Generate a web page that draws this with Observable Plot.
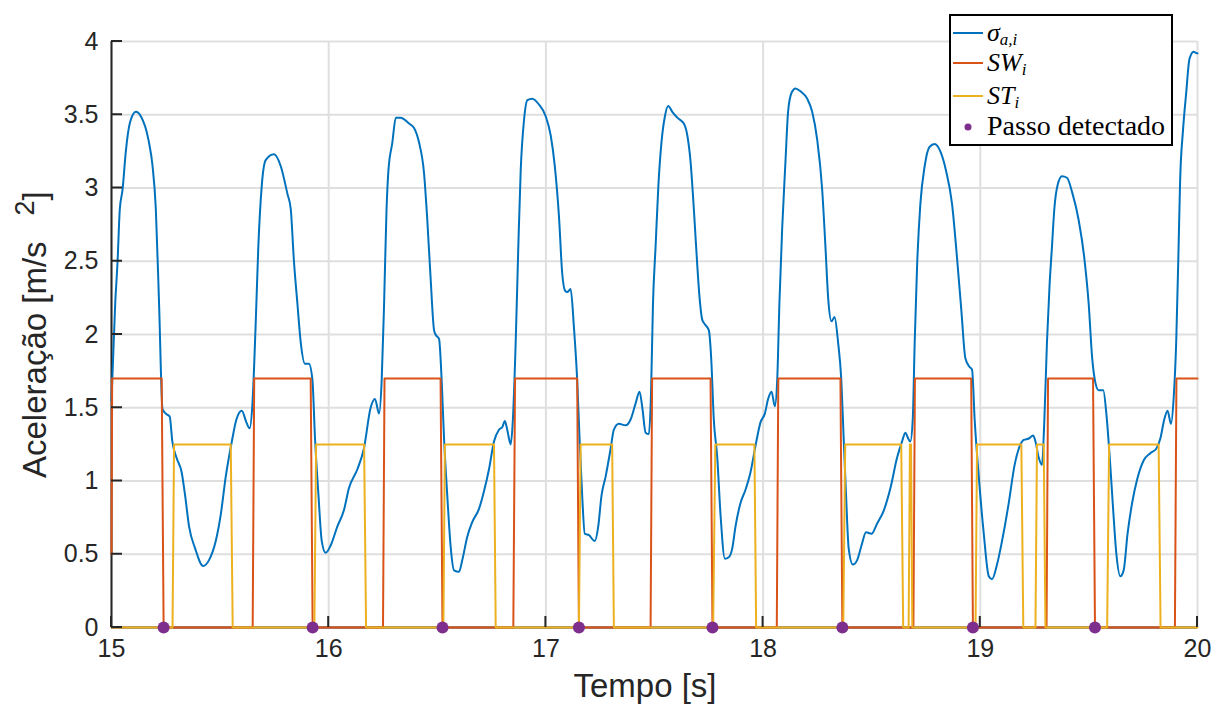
<!DOCTYPE html>
<html><head><meta charset="utf-8">
<script src="https://cdn.jsdelivr.net/npm/d3@7"></script>
<script src="https://cdn.jsdelivr.net/npm/@observablehq/plot@0.6"></script>
<style>body{margin:0;background:#fff}</style>
</head><body><div id="chart"></div>
<script>
// sigma_{a,i}: time [s] and acceleration [m/s^2]
const sigmaT = [15.000,15.017,15.028,15.038,15.051,15.066,15.084,15.112,15.135,15.170,15.189,15.204,15.219,15.235,15.250,15.268,15.280,15.299,15.323,15.339,15.357,15.385,15.422,15.449,15.480,15.503,15.526,15.554,15.575,15.600,15.621,15.636,15.649,15.664,15.676,15.692,15.710,15.748,15.779,15.810,15.825,15.840,15.856,15.871,15.891,15.909,15.925,15.937,15.953,15.968,15.986,16.009,16.040,16.070,16.093,16.132,16.162,16.193,16.213,16.232,16.244,16.255,16.266,16.275,16.293,16.309,16.331,16.370,16.393,16.416,16.439,16.454,16.469,16.485,16.492,16.508,16.520,16.531,16.546,16.561,16.577,16.600,16.615,16.638,16.661,16.692,16.715,16.738,16.761,16.784,16.800,16.811,16.822,16.838,16.848,16.861,16.873,16.884,16.899,16.915,16.937,16.968,16.999,17.022,17.041,17.060,17.075,17.088,17.098,17.114,17.129,17.144,17.155,17.167,17.179,17.198,17.225,17.241,17.256,17.275,17.298,17.313,17.336,17.367,17.390,17.413,17.431,17.444,17.459,17.474,17.484,17.493,17.505,17.518,17.532,17.548,17.563,17.582,17.605,17.635,17.651,17.666,17.681,17.697,17.707,17.720,17.732,17.750,17.761,17.773,17.789,17.804,17.824,17.842,17.858,17.873,17.896,17.919,17.942,17.965,17.988,18.008,18.023,18.039,18.054,18.065,18.075,18.088,18.103,18.115,18.131,18.149,18.172,18.203,18.226,18.249,18.272,18.287,18.300,18.315,18.329,18.345,18.360,18.371,18.382,18.394,18.413,18.433,18.453,18.474,18.499,18.525,18.556,18.586,18.617,18.640,18.655,18.668,18.678,18.689,18.698,18.709,18.724,18.744,18.766,18.790,18.816,18.842,18.870,18.893,18.913,18.931,18.950,18.962,18.974,18.993,19.016,19.039,19.054,19.077,19.100,19.131,19.158,19.177,19.200,19.223,19.243,19.254,19.269,19.284,19.295,19.307,19.319,19.330,19.341,19.356,19.376,19.399,19.423,19.453,19.479,19.499,19.515,19.530,19.545,19.566,19.581,19.596,19.611,19.626,19.645,19.660,19.678,19.699,19.722,19.752,19.783,19.810,19.829,19.847,19.862,19.878,19.890,19.902,19.913,19.920,19.933,19.948,19.963,19.982,19.997,20.000];
const sigmaV = [1.55,2.21,2.50,2.85,2.99,3.25,3.44,3.52,3.49,3.33,3.15,2.86,2.21,1.49,1.46,1.44,1.27,1.16,1.06,0.90,0.69,0.54,0.42,0.46,0.59,0.77,1.03,1.27,1.42,1.48,1.40,1.36,1.53,2.08,2.60,3.02,3.19,3.23,3.15,2.96,2.86,2.50,2.21,1.95,1.80,1.80,1.69,1.29,0.90,0.59,0.51,0.56,0.69,0.80,0.95,1.08,1.22,1.50,1.56,1.46,1.69,2.21,2.84,3.12,3.31,3.48,3.48,3.44,3.41,3.31,3.10,2.78,2.39,2.03,2.00,1.97,1.69,1.29,0.90,0.56,0.39,0.38,0.46,0.62,0.72,0.81,0.93,1.08,1.27,1.35,1.37,1.41,1.35,1.25,1.42,1.95,2.60,3.12,3.46,3.60,3.61,3.57,3.49,3.36,3.15,2.81,2.42,2.30,2.29,2.31,2.05,1.69,1.29,0.90,0.64,0.63,0.59,0.69,0.90,1.03,1.22,1.35,1.39,1.38,1.42,1.53,1.61,1.50,1.33,1.32,1.60,2.21,2.60,3.02,3.31,3.49,3.56,3.52,3.48,3.44,3.36,3.18,2.86,2.47,2.26,2.10,2.07,2.03,1.84,1.42,1.16,0.77,0.47,0.48,0.54,0.69,0.85,0.94,1.06,1.24,1.40,1.46,1.56,1.61,1.51,1.69,2.21,2.73,3.18,3.52,3.65,3.68,3.66,3.61,3.52,3.33,2.99,2.60,2.24,2.09,2.12,1.95,1.69,1.29,0.90,0.54,0.43,0.46,0.56,0.65,0.64,0.71,0.80,0.95,1.16,1.27,1.33,1.29,1.27,1.42,1.95,2.47,2.89,3.15,3.28,3.30,3.25,3.12,2.89,2.52,2.16,1.84,1.78,1.76,1.42,1.03,0.64,0.35,0.33,0.43,0.59,0.85,1.11,1.22,1.28,1.29,1.31,1.27,1.16,1.11,1.42,1.95,2.34,2.60,2.86,3.02,3.08,3.07,2.97,2.78,2.52,2.21,1.84,1.67,1.62,1.62,1.45,1.16,0.82,0.51,0.35,0.39,0.64,0.85,1.01,1.14,1.19,1.22,1.29,1.42,1.48,1.39,1.56,1.95,2.60,3.05,3.39,3.65,3.88,3.93,3.92,3.92];

// SW_i step signal
const swT = [15.000,15.003,15.231,15.240,15.650,15.657,15.917,15.926,16.250,16.257,16.515,16.524,16.850,16.858,17.144,17.152,17.482,17.489,17.758,17.767,18.063,18.070,18.356,18.365,18.692,18.699,18.958,18.966,19.305,19.312,19.519,19.528,19.896,19.903,20.000];
const swV = [0.5,1.7,1.7,0,0,1.7,1.7,0,0,1.7,1.7,0,0,1.7,1.7,0,0,1.7,1.7,0,0,1.7,1.7,0,0,1.7,1.7,0,0,1.7,1.7,0,0,1.7,1.7];

// ST_i step signal
const stT = [15.000,15.281,15.288,15.549,15.558,15.934,15.942,16.163,16.172,16.528,16.535,16.761,16.769,17.152,17.160,17.305,17.313,17.770,17.780,17.960,17.968,18.369,18.378,18.636,18.645,18.670,18.676,18.681,18.687,18.978,18.985,19.189,19.198,19.254,19.261,19.292,19.300,19.584,19.593,19.821,19.830,20.000];
const stV = [0,0,1.25,1.25,0,0,1.25,1.25,0,0,1.25,1.25,0,0,1.25,1.25,0,0,1.25,1.25,0,0,1.25,1.25,0,0,1.25,1.25,0,0,1.25,1.25,0,0,1.25,1.25,0,0,1.25,1.25,0,0];

// Passo detectado
const stepT = [15.240,15.926,16.524,17.152,17.767,18.365,18.966,19.528];
const stepV = [0,0,0,0,0,0,0,0];

const xTicks = [15,16,17,18,19,20];
const yTicks = [0,0.5,1,1.5,2,2.5,3,3.5,4];
const yTickLabels = ["0","0.5","1","1.5","2","2.5","3","3.5","4"];
const xLabel = "Tempo [s]";
const yLabel = "Aceleração [m/s";
const legendLabels = ["Passo detectado"];

const sigma = sigmaT.map((t,i)=>({t, v: sigmaV[i]}));
const sw = swT.map((t,i)=>({t, v: swV[i]}));
const st = stT.map((t,i)=>({t, v: stV[i]}));
const steps = stepT.map((t,i)=>({t, v: stepV[i]}));

const ink = "#262626";
const gridColor = "#dfdfdf";
const font = "'Liberation Sans', Arial, Helvetica, sans-serif";

const chart = Plot.plot({
  width: 1212, height: 709,
  marginLeft: 111, marginRight: 15, marginTop: 41, marginBottom: 82,
  style: {fontFamily: font, background: "#fff", overflow: "visible"},
  x: {domain: [15, 20]},
  y: {domain: [0, 4]},
  marks: [
    Plot.gridY(yTicks, {stroke: gridColor, strokeOpacity: 1, strokeWidth: 2}),
    Plot.gridX(xTicks, {stroke: gridColor, strokeOpacity: 1, strokeWidth: 2}),
    Plot.ruleX([15], {stroke: ink, strokeWidth: 2}),
    Plot.ruleY([0], {stroke: ink, strokeWidth: 2}),
    Plot.axisX(xTicks, {tickSize: 0, tickPadding: 12, fontSize: 25, fill: ink, label: null, tickFormat: d => String(d)}),
    Plot.axisY(yTicks, {tickSize: 0, tickPadding: 13, fontSize: 25, fill: ink, label: null, tickFormat: d => yTickLabels[yTicks.indexOf(d)]}),
    Plot.line(sigma, {x: "t", y: "v", stroke: "#0072BD", strokeWidth: 2, curve: "monotone-x"}),
    Plot.line(sw, {x: "t", y: "v", stroke: "#D95319", strokeWidth: 2}),
    Plot.line(st, {x: "t", y: "v", stroke: "#EDB120", strokeWidth: 2}),
    Plot.dot(steps, {x: "t", y: "v", r: 6, fill: "#7E2F8E", stroke: "none"})
  ]
});
document.getElementById("chart").appendChild(chart);

const sx = chart.scale("x"), sy = chart.scale("y");
const svg = d3.select(chart);
const x0 = sx.apply(15), x1 = sx.apply(20), y0 = sy.apply(0), y1 = sy.apply(4);

// inward ticks (MATLAB style)
const tg = svg.append("g").attr("stroke", ink).attr("stroke-width", 2);
yTicks.forEach(v => tg.append("line").attr("x1", x0).attr("x2", x0 + 11).attr("y1", sy.apply(v)).attr("y2", sy.apply(v)));
xTicks.forEach(v => tg.append("line").attr("x1", sx.apply(v)).attr("x2", sx.apply(v)).attr("y1", y0).attr("y2", y0 - 11));

// axis labels
svg.append("text").attr("x", 645).attr("y", 697).attr("text-anchor", "middle")
  .attr("font-size", 33).attr("fill", ink).attr("font-family", font).text(xLabel);
const yl = svg.append("text").attr("transform", `translate(46,478) rotate(-90)`)
  .attr("text-anchor", "start").attr("font-size", 33).attr("fill", ink).attr("font-family", font);
yl.append("tspan").text(yLabel);
yl.append("tspan").attr("dx", 26).attr("dy", -12).attr("font-size", 27).text("2");
yl.append("tspan").attr("dy", 12).text("]");

// legend
const serif = "'Liberation Serif', 'Times New Roman', serif";
const lg = svg.append("g").attr("text-anchor", "start");
lg.append("rect").attr("x", 950).attr("y", 15).attr("width", 222).attr("height", 130)
  .attr("fill", "#fff").attr("stroke", "#000").attr("stroke-width", 2);
const entries = [
  {c: "#0072BD", y: 33, main: "σ", sub: "a,i"},
  {c: "#D95319", y: 63, main: "SW", sub: "i"},
  {c: "#EDB120", y: 96, main: "ST", sub: "i"}
];
entries.forEach(e => {
  lg.append("line").attr("x1", 953).attr("x2", 983).attr("y1", e.y).attr("y2", e.y).attr("stroke", e.c).attr("stroke-width", 2);
  const t = lg.append("text").attr("x", 987).attr("y", e.y + 8).attr("text-anchor", "start").attr("font-family", serif).attr("font-style", "italic").attr("font-size", 26).attr("fill", "#000");
  t.append("tspan").text(e.main);
  t.append("tspan").attr("dy", 4).attr("font-size", 17).text(e.sub);
});
lg.append("circle").attr("cx", 968).attr("cy", 127).attr("r", 3.5).attr("fill", "#7E2F8E");
lg.append("text").attr("x", 987).attr("y", 135).attr("text-anchor", "start").attr("font-family", serif).attr("font-size", 28).attr("fill", "#000").text(legendLabels[0]);
</script></body></html>
